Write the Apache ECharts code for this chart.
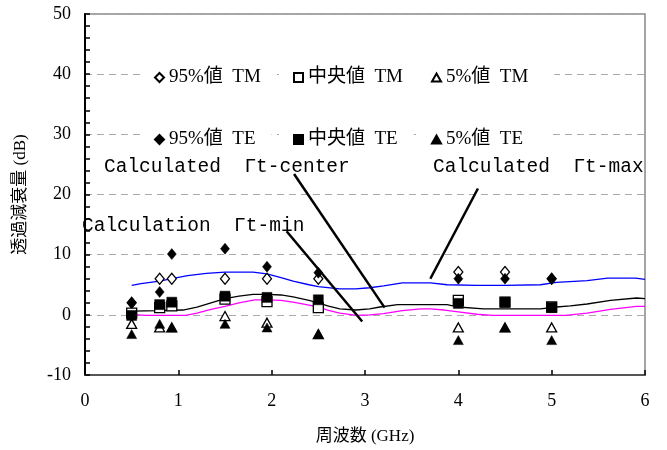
<!DOCTYPE html>
<html><head><meta charset="utf-8">
<script src="https://cdn.jsdelivr.net/npm/echarts@6/dist/echarts.min.js"></script>
<style>html,body{margin:0;padding:0;background:#fff}#c{width:667px;height:450px}</style>
</head><body><div id="c"></div>
<script>
// measured frequencies (GHz)
const freqs = [0.5, 0.8, 0.93, 1.5, 1.95, 2.5, 4.0, 4.5, 5.0];
const tm95 = [2.0, 6.0, 6.0, 6.0, 6.0, 6.0, 7.1, 7.1, 6.0];
const tmMed = [0.3, 1.2, 1.5, 2.6, 2.2, 1.2, 2.4, 2.1, 1.3];
const tm5 = [-1.5, -2.1, -2.1, -0.2, -1.3, -3.2, -2.1, -2.1, -2.1];
const te95 = [2.0, 3.8, 10.1, 11.0, 8.0, 7.0, 6.0, 6.0, 6.0];
const teMed = [-0.1, 1.7, 2.1, 3.1, 2.9, 2.5, 1.9, 2.1, 1.2];
const te5 = [-3.2, -1.5, -2.1, -1.5, -2.1, -3.2, -4.2, -2.1, -4.2];

// calculated curves
const maxF = [0.5,0.6,0.7,0.8,0.93,1.1,1.3,1.5,1.8,1.95,2.1,2.23,2.4,2.5,2.73,2.9,3.05,3.2,3.4,3.7,3.88,4.2,4.5,4.88,5.05,5.38,5.6,5.9,6.0];
const maxV = [4.9,5.2,5.4,5.6,6.0,6.5,6.9,7.1,7.1,6.8,6.2,5.6,5.0,4.7,4.3,4.3,4.5,4.8,5.3,5.3,5.0,4.9,4.9,5.0,5.4,5.7,6.1,6.1,5.9];
const cenF = [0.5,0.8,1.05,1.2,1.35,1.5,1.65,1.8,1.95,2.1,2.23,2.4,2.5,2.6,2.73,2.9,3.05,3.16,3.35,3.88,4.0,4.27,4.88,5.05,5.2,5.38,5.63,5.91,6.0];
const cenV = [0.6,0.7,0.8,1.3,2.0,2.7,3.1,3.4,3.4,3.3,3.0,2.4,2.0,1.5,1.0,0.8,1.0,1.3,1.7,1.7,1.3,1.0,1.0,1.3,1.5,1.8,2.4,2.8,2.7];
const minF = [0.5,0.66,1.08,1.2,1.35,1.5,1.65,1.82,1.95,2.1,2.23,2.4,2.5,2.6,2.73,2.91,3.05,3.2,3.4,3.6,3.7,3.85,4.0,4.2,4.37,5.15,5.38,5.63,5.91,6.0];
const minV = [0.05,-0.1,-0.1,0.3,0.9,1.4,2.0,2.5,2.5,2.4,2.1,1.6,1.3,0.8,0.3,-0.1,0.0,0.2,0.7,1.0,1.0,0.8,0.5,0.1,-0.1,-0.1,0.3,0.9,1.4,1.4];

// axis ticks
const xTicks = [0,1,2,3,4,5,6];
const yTicks = [-10,0,10,20,30,40,50];

// legend names (two rows)
const tmNames = ['95%値  TM', '中央値  TM', '5%値  TM'];
const teNames = ['95%値  TE', '中央値  TE', '5%値  TE'];

// annotation leader lines (data coords)
const leaderCenter = [[2.24, 23.4], [3.21, 1.2]];
const leaderMin = [[2.16, 13.9], [2.97, -1.1]];
const leaderMax = [[4.21, 21.0], [3.70, 6.0]];

const zip = (a, b) => a.map((v, i) => [v, b[i]]);
const serif = "'Liberation Serif','Noto Sans CJK JP',serif";
const mono = "'Liberation Mono','DejaVu Sans Mono',monospace";

const hollow = {color: '#fff', borderColor: '#000', borderWidth: 1.3, opacity: 1};
const filled = {color: '#000', borderColor: '#000', borderWidth: 0.5, opacity: 1};
function sc(name, vals, symbol, size, style) {
  return {name, type: 'scatter', data: zip(freqs, vals), symbol, symbolSize: size,
    itemStyle: style, z: 5};
}
function leader(pts) {
  return {silent: true, symbol: 'none', label: {show: false},
    lineStyle: {color: '#000', width: 2.5, type: 'solid'},
    data: [[{coord: pts[0]}, {coord: pts[1]}]]};
}
const triUp = 'path://M0,-10L8.66,5L-8.66,5Z';
const colLeft = [140, 279, 417];
function legendItem(name, col, top) {
  return {data: [name], left: colLeft[col], top: top, orient: 'horizontal',
    itemWidth: 9, itemHeight: 9, itemGap: 0, backgroundColor: '#fff',
    padding: [4, col === 2 ? 26 : 16, 4, 14],
    textStyle: {fontFamily: serif, fontSize: 19, color: '#000'}};
}

const option = {
  animation: false,
  backgroundColor: '#fff',
  grid: {left: 85, right: 22, top: 14, bottom: 72, show: true, borderColor: '#888', borderWidth: 1.5},
  xAxis: {type: 'value', min: 0, max: 6, interval: 1,
    axisLine: {show: true, onZero: false, lineStyle: {color: '#555', width: 2}},
    axisTick: {show: true, inside: true, length: 5, lineStyle: {color: '#000', width: 1.5}},
    axisLabel: {margin: 17, fontFamily: serif, fontSize: 18, color: '#000'},
    splitLine: {show: false},
    name: '周波数 (GHz)', nameLocation: 'middle', nameGap: 53,
    nameTextStyle: {fontFamily: serif, fontSize: 17, color: '#000'}},
  yAxis: {type: 'value', min: -10, max: 50, interval: 10,
    axisLine: {show: true, onZero: false, lineStyle: {color: '#000', width: 2}},
    axisTick: {show: true, inside: true, length: 5, lineStyle: {color: '#000', width: 1.5}},
    minorTick: {show: true, splitNumber: 5, length: 5, lineStyle: {color: '#000', width: 1.5}},
    axisLabel: {margin: 14, fontFamily: serif, fontSize: 18, color: '#000'},
    splitLine: {show: true, lineStyle: {color: '#aaa', type: [7, 5], width: 1}},
    name: '透過減衰量 (dB)', nameLocation: 'middle', nameGap: 56,
    nameTextStyle: {fontFamily: serif, fontSize: 17, color: '#000'}},
  legend: [
    ...tmNames.map((n, i) => legendItem(n, i, 64)),
    ...teNames.map((n, i) => legendItem(n, i, 126))
  ],
  graphic: [
    {type: 'text', left: 104, top: 157, z: 10, style: {text: 'Calculated  Γt-center', font: '19.5px ' + mono, fill: '#000'}},
    {type: 'text', left: 433, top: 157, z: 10, style: {text: 'Calculated  Γt-max', font: '19.5px ' + mono, fill: '#000'}},
    {type: 'text', left: 82, top: 216, z: 10, style: {text: 'Calculation  Γt-min', font: '19.5px ' + mono, fill: '#000'}}
  ],
  series: [
    {name: 'Γt-max', type: 'line', data: zip(maxF, maxV), showSymbol: false, symbol: 'none',
      lineStyle: {color: '#0000ff', width: 1.3}, z: 3, markLine: leader(leaderMax)},
    {name: 'Γt-center', type: 'line', data: zip(cenF, cenV), showSymbol: false, symbol: 'none',
      lineStyle: {color: '#000', width: 1.3}, z: 3, markLine: leader(leaderCenter)},
    {name: 'Γt-min', type: 'line', data: zip(minF, minV), showSymbol: false, symbol: 'none',
      lineStyle: {color: '#ff00ff', width: 1.3}, z: 3, markLine: leader(leaderMin)},
    sc(tmNames[0], tm95, 'diamond', [9, 11], hollow),
    sc(tmNames[1], tmMed, 'rect', 10, hollow),
    sc(tmNames[2], tm5, triUp, [10, 9], hollow),
    sc(teNames[0], te95, 'diamond', [9, 11], filled),
    sc(teNames[1], teMed, 'rect', 10, filled),
    sc(teNames[2], te5, triUp, [10, 9], filled)
  ]
};
echarts.init(document.getElementById('c'), null, {renderer: 'canvas'}).setOption(option);
</script></body></html>
